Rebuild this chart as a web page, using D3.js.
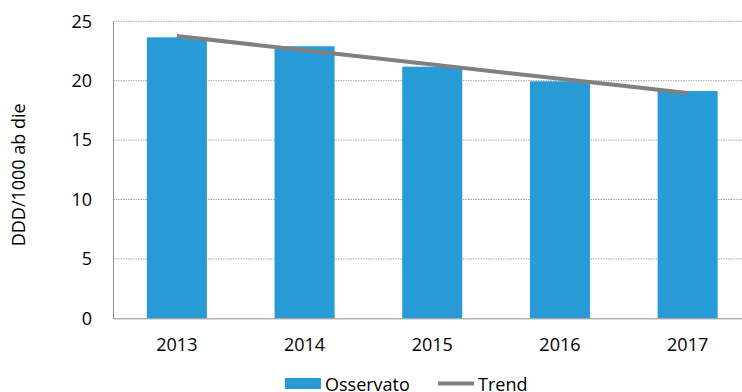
<!DOCTYPE html>
<html>
<head>
<meta charset="utf-8">
<script src="https://cdn.jsdelivr.net/npm/d3@7"></script>
<style>
  html, body { margin: 0; padding: 0; background: #fff; overflow: hidden; }
  text { font-family: "Open Sans", sans-serif; fill: #000; }
</style>
</head>
<body>
<svg id="chart" width="742" height="392"></svg>
<script>
const categories = ["2013", "2014", "2015", "2016", "2017"];
const observed = [23.65, 22.9, 21.18, 19.95, 19.13];
const trend = [23.76, 22.56, 21.36, 20.16, 18.96];
const yTicks = [0, 5, 10, 15, 20, 25];
const yLabel = "DDD/1000 ab die";
const legendLabels = ["Osservato", "Trend"];

const svg = d3.select("#chart");
const mLeft = 113, mRight = 751.5, mTop = 21.3, mBottom = 318.3;
const barColor = "#289AD6", lineColor = "#808080";

const x = d3.scaleBand().domain(categories).range([mLeft, mRight])
  .paddingInner(0.53).paddingOuter(0.265);
const y = d3.scaleLinear().domain([0, 25]).range([mBottom, mTop]);

// gridlines
svg.append("g").selectAll("line").data(yTicks.filter(d => d > 0)).join("line")
  .attr("x1", mLeft).attr("x2", mRight)
  .attr("y1", d => y(d)).attr("y2", d => y(d))
  .attr("stroke", "#a6a6a6").attr("stroke-width", 1)
  .attr("stroke-dasharray", "1.5,1");

// bars
svg.append("g").selectAll("rect").data(categories).join("rect")
  .attr("x", d => x(d)).attr("width", x.bandwidth())
  .attr("y", (d, i) => y(observed[i]))
  .attr("height", (d, i) => y(0) - y(observed[i]))
  .attr("fill", barColor);

// axes
const yAxis = d3.axisLeft(y).tickValues(yTicks).tickSize(0).tickPadding(21);
const gy = svg.append("g").attr("transform", `translate(${mLeft},0)`).call(yAxis);
gy.select(".domain").attr("stroke", "#8c8c8c");
gy.selectAll("text").style("font-size", "18px").style("font-family", "'Open Sans', sans-serif");

const xAxis = d3.axisBottom(x).tickSize(0).tickPadding(20);
const gx = svg.append("g").attr("transform", `translate(0,${mBottom})`).call(xAxis);
gx.select(".domain").attr("stroke", "#8c8c8c");
gx.selectAll("text").style("font-size", "18px").style("font-family", "'Open Sans', sans-serif");

// trend line
const line = d3.line().x((d, i) => x(categories[i]) + x.bandwidth() / 2).y(d => y(d));
svg.append("path").datum(trend).attr("d", line)
  .attr("fill", "none").attr("stroke", lineColor).attr("stroke-width", 4);

// y label
svg.append("text")
  .attr("transform", `translate(25,${(mTop + mBottom) / 2 + 5}) rotate(-90)`)
  .attr("text-anchor", "middle")
  .style("font-size", "18px")
  .text(yLabel);

// legend
const lg = svg.append("g");
lg.append("rect").attr("x", 285).attr("y", 378).attr("width", 36).attr("height", 11).attr("fill", barColor);
lg.append("text").attr("x", 325).attr("y", 391).style("font-size", "18px").text(legendLabels[0]);
lg.append("line").attr("x1", 438).attr("x2", 474).attr("y1", 383.5).attr("y2", 383.5)
  .attr("stroke", lineColor).attr("stroke-width", 4);
lg.append("text").attr("x", 478).attr("y", 391).style("font-size", "18px").text(legendLabels[1]);
</script>
</body>
</html>
